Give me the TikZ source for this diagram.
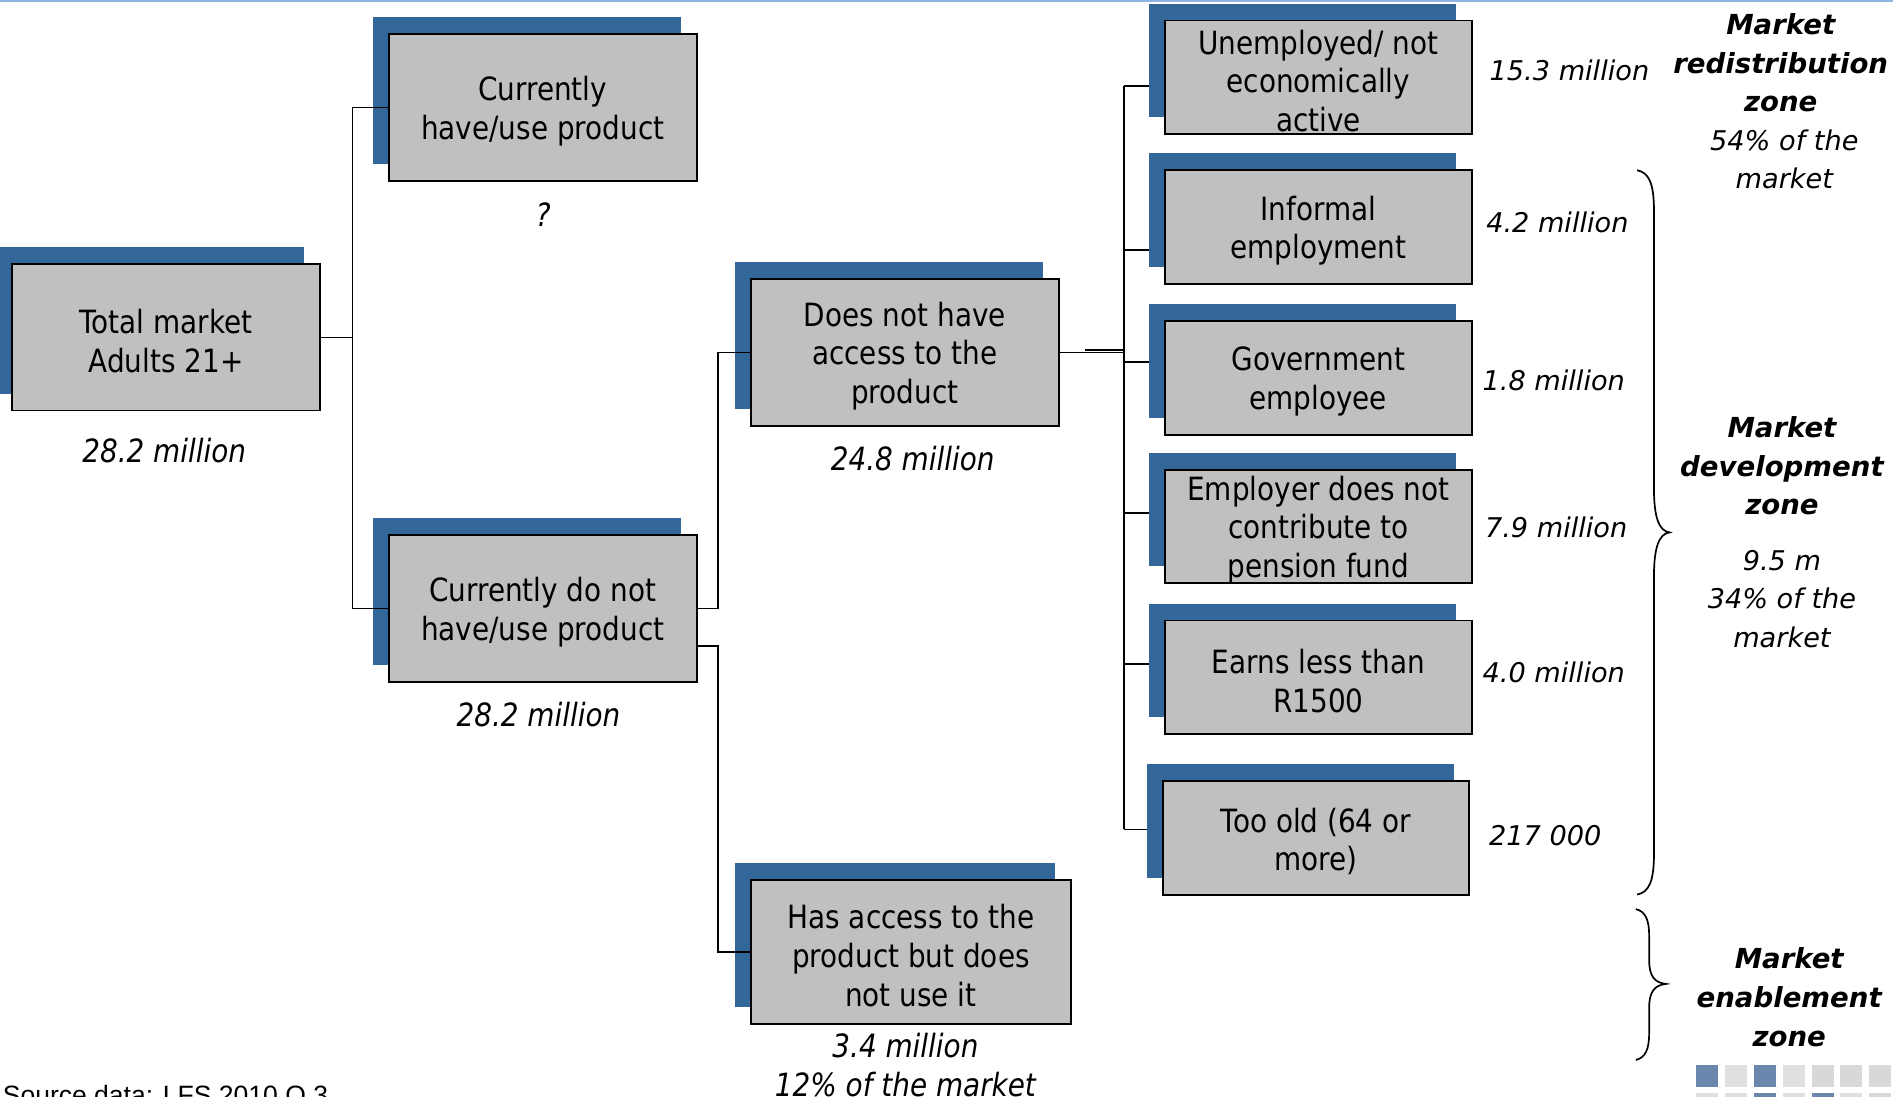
\documentclass[tikz,border=0pt]{standalone}
\usepackage{fontspec}
\usetikzlibrary{calc}
\setmainfont{DejaVu Sans}
\newfontfamily\boxfont[FakeStretch=0.87]{DejaVu Sans}
\newfontfamily\zonefont{DejaVu Sans}
\newfontfamily\srcfont{Liberation Sans}

\definecolor{panelblue}{RGB}{51,102,153}
\definecolor{panelgrey}{RGB}{192,192,192}
\definecolor{rulesky}{RGB}{141,180,226}
\definecolor{tileblue}{RGB}{108,135,174}
\definecolor{tilelight}{RGB}{224,224,224}
\definecolor{tilegrey}{RGB}{216,216,216}

\tikzset{
  shadowpanel/.style={rectangle, fill=panelblue, draw=none, inner sep=0pt, outer sep=0pt},
  greypanel/.style={rectangle, fill=panelgrey, draw=black, line width=0.9pt,
    inner sep=0pt, outer sep=0pt},
  paneltext/.style={align=center, inner sep=0pt,
    font=\boxfont\fontsize{15.1}{18.2}\selectfont},
  link/.style={draw=black, line width=0.8pt},
  countlabel/.style={align=center, inner sep=0pt,
    font=\boxfont\itshape\fontsize{15.1}{18.2}\selectfont},
  sidelabel/.style={align=center, inner sep=0pt,
    font=\zonefont\itshape\fontsize{12.8}{18.2}\selectfont},
  zonehead/.style={align=center, inner sep=0pt,
    font=\zonefont\bfseries\itshape\fontsize{13}{18.2}\selectfont},
  bracepath/.style={draw=black, line width=0.8pt}
}

% a grey panel with its blue offset backing and its centred caption
\newcommand\drawpanel[6]{%
  \node[shadowpanel, minimum width=#4*0.02cm, minimum height=#5*0.02cm] (#1-s) at (#2-13,#3-14) {};
  \node[greypanel, minimum width=#4*0.02cm, minimum height=#5*0.02cm] (#1) at (#2,#3) {};
  \node[paneltext] (#1-t) at (#2,#3+3) {#6};
}

\begin{document}
\begin{tikzpicture}[x=0.02cm, y=-0.02cm]
\clip (0,0) rectangle (1568,908);
\fill[white] (0,0) rectangle (1568,908);

% thin rule along the top edge
\draw[rulesky, line width=0.9pt] (0,0.6) -- (1568,0.6);

% panels
\drawpanel{tm}{137.5}{279.5}{255}{121}{Total market\\Adults 21+}
\drawpanel{ch}{449.5}{89}{255}{122}{Currently\\have/use product}
\drawpanel{cd}{449.5}{504}{255}{122}{Currently do not\\have/use product}
\drawpanel{dna}{749.5}{292}{255}{122}{Does not have\\access to the\\product}
\drawpanel{ha}{754.5}{788.5}{265}{119}{Has access to the\\product but does\\not use it}
\drawpanel{un}{1092}{64}{254}{94}{Unemployed/ not\\economically\\active}
\drawpanel{inf}{1092}{188}{254}{94}{Informal\\employment}
\drawpanel{gov}{1092}{313}{254}{94}{Government\\employee}
\drawpanel{emp}{1092}{436}{254}{94}{Employer does not\\contribute to\\pension fund}
\drawpanel{earn}{1092}{561}{254}{94}{Earns less than\\R1500}
\drawpanel{old}{1090}{694}{254}{94}{Too old (64 or\\more)}

% counts under the panels
\node[countlabel] (tm-n) at (136,373) {28.2 million};
\node[countlabel] (ch-n) at (450,178) {?};
\node[countlabel] (cd-n) at (446,592) {28.2 million};
\node[countlabel] (dna-n) at (756,380) {24.8 million};
\node[countlabel] (ha-n) at (750,882) {3.4 million\\12\% of the market};

% counts beside the right-hand panels
\node[sidelabel] (un-n) at (1300,58) {15.3 million};
\node[sidelabel] (inf-n) at (1290,184) {4.2 million};
\node[sidelabel] (gov-n) at (1287,315) {1.8 million};
\node[sidelabel] (emp-n) at (1289,437) {7.9 million};
\node[sidelabel] (earn-n) at (1287,557) {4.0 million};
\node[sidelabel] (old-n) at (1280,692) {217 000};

% left tree
\coordinate (j1) at ($(tm.east)+(27,0)$);
\draw[link] (tm.east) -- (j1);
\draw[link] (ch.west) -| (j1) |- (cd.west);
\draw[link] (cd.east) -- ++(18,0) |- (dna.west);
\draw[link] ([yshift=-0.62cm]cd.east) -- ++(18,0) |- (ha.west);

% right tree
\coordinate (j3) at ($(dna.east)+(54,0)$);
\draw[link] (dna.east) -- (j3);
\draw[link] ($(dna.east)+(22,-2)$) -- ($(j3)+(0,-2)$);
\coordinate (b1) at (931,71);
\coordinate (b2) at (931,207);
\coordinate (b3) at (931,300);
\coordinate (b4) at (931,425);
\coordinate (b5) at (931,550);
\coordinate (b6) at (931,687);
\draw[link] (b1) -- (b6);
\draw[link] (b1) -- (b1 -| un-s.west);
\draw[link] (b2) -- (b2 -| inf-s.west);
\draw[link] (b3) -- (b3 -| gov-s.west);
\draw[link] (b4) -- (b4 -| emp-s.west);
\draw[link] (b5) -- (b5 -| earn-s.west);
\draw[link] (b6) -- (b6 -| old-s.west);

% braces
\draw[bracepath] (1356,141) .. controls (1366,143) and (1370,152) .. (1370,175)
  -- (1370,405) .. controls (1370,428) and (1374,440) .. (1383,441)
  .. controls (1374,442) and (1370,454) .. (1370,477)
  -- (1370,707) .. controls (1370,730) and (1366,739) .. (1356,741);
\draw[bracepath] (1355,753) .. controls (1363,755) and (1366,762) .. (1366,775)
  -- (1366,795) .. controls (1366,808) and (1370,814) .. (1380,815)
  .. controls (1370,816) and (1366,822) .. (1366,835)
  -- (1366,856) .. controls (1366,869) and (1363,876) .. (1355,878);

% zone captions
\node[zonehead] (zr) at (1475,52) {Market\\redistribution\\zone};
\node[sidelabel] (zr-n) at (1478,132) {54\% of the\\market};
\node[zonehead] (zd) at (1476,386) {Market\\development\\zone};
\node[sidelabel] (zd-n) at (1476,496) {9.5 m\\34\% of the\\market};
\node[zonehead] (ze) at (1482,826) {Market\\enablement\\zone};

% source note
\node[anchor=base west, inner sep=0pt, font=\srcfont\fontsize{12.5}{15}\selectfont] (src) at (2,914.5) {Source data: LFS 2010 Q 3};

% tile strip, bottom right
\foreach \x/\c in {1405/tileblue,1429/tilelight,1453/tileblue,1477/tilelight,1501/tilegrey,1524/tilegrey,1548/tilegrey}
  \fill[\c] (\x,882) rectangle ++(18,18);
\foreach \x/\c in {1405/tilelight,1429/tilelight,1453/tileblue,1477/tilelight,1501/tileblue,1524/tilelight,1548/tilegrey}
  \fill[\c] (\x,905) rectangle ++(18,18);
\end{tikzpicture}
\end{document}
